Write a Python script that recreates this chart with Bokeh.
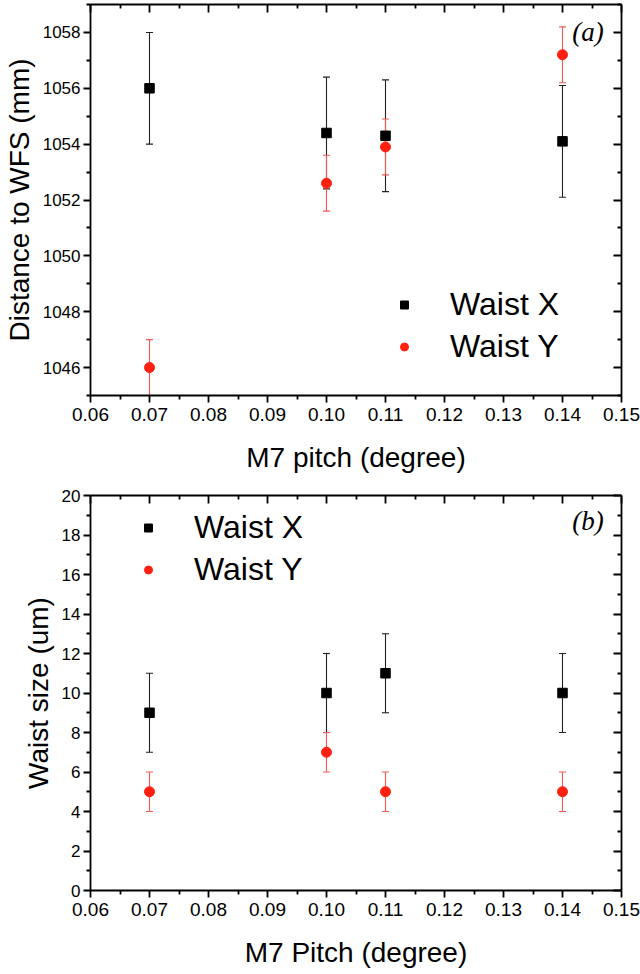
from bokeh.plotting import figure
from bokeh.models import (Range1d, LinearAxis, FixedTicker, Whisker, TeeHead,
                          ColumnDataSource, Legend, LegendItem, Label,
                          CustomLabelingPolicy)
from bokeh.layouts import column
from bokeh.embed import file_html
from bokeh.resources import INLINE

# ---------------- data ----------------
pitch = [0.07, 0.10, 0.11, 0.14]

dist_x = [1056.0, 1054.4, 1054.3, 1054.1]
dist_x_err = [2.0, 2.0, 2.0, 2.0]
dist_y = [1046.0, 1052.6, 1053.9, 1057.2]
dist_y_err = [1.0, 1.0, 1.0, 1.0]

size_x = [9.0, 10.0, 11.0, 10.0]
size_x_err = [2.0, 2.0, 2.0, 2.0]
size_y = [5.0, 7.0, 5.0, 5.0]
size_y_err = [1.0, 1.0, 1.0, 1.0]

x_ticks = [0.06, 0.07, 0.08, 0.09, 0.10, 0.11, 0.12, 0.13, 0.14, 0.15]
x_tick_labels = ["0.06", "0.07", "0.08", "0.09", "0.10", "0.11", "0.12", "0.13", "0.14", "0.15"]
dist_ticks = [1046, 1048, 1050, 1052, 1054, 1056, 1058]
size_ticks = [0, 2, 4, 6, 8, 10, 12, 14, 16, 18, 20]

series_names = ["Waist X", "Waist Y"]

BLACK = "#000000"
RED = "#FF2010"
RED_ERR = "#F05A50"
ERR_BLACK = "#222222"
FONT = "Liberation Sans"


def minor_of(ticks, lo, hi):
    step = ticks[1] - ticks[0]
    out = [t + step / 2 for t in ticks]
    out += [ticks[0] - step / 2]
    return [m for m in out if lo <= m <= hi]


HIDE_ALL = "for (const i of indices) indices.unset(i)\nreturn indices"


def make_panel(height, top, bottom, y_lo, y_hi, y_ticks, xs, ya, ea, yb, eb,
               xlabel, ylabel, tag, tag_y, legend_loc):
    p = figure(width=640, height=height, output_backend="svg", toolbar_location=None,
               x_range=Range1d(x_ticks[0], x_ticks[-1]), y_range=Range1d(y_lo, y_hi),
               min_border_left=90, min_border_right=19, min_border_top=top,
               min_border_bottom=bottom, x_axis_location=None, y_axis_location=None)
    p.grid.visible = False
    p.outline_line_color = None
    p.background_fill_color = "white"
    p.border_fill_color = "white"

    xt = FixedTicker(ticks=x_ticks, minor_ticks=minor_of(x_ticks, x_ticks[0], x_ticks[-1]))
    yt = FixedTicker(ticks=y_ticks, minor_ticks=minor_of(y_ticks, y_lo, y_hi))
    xover = {t: l for t, l in zip(x_ticks, x_tick_labels)}

    def style(ax, inward, labels, fs):
        ax.axis_line_width = 1.8
        ax.axis_line_color = "black"
        ax.major_tick_line_width = 1.8
        ax.minor_tick_line_width = 1.8
        ax.major_tick_line_color = "black"
        ax.minor_tick_line_color = "black"
        if inward:
            ax.major_tick_in = 8
            ax.major_tick_out = 0
            ax.minor_tick_in = 4
            ax.minor_tick_out = 0
        else:
            ax.major_tick_in = 0
            ax.major_tick_out = 7
            ax.minor_tick_in = 0
            ax.minor_tick_out = 4
        if labels:
            ax.major_label_text_font = FONT
            ax.major_label_text_font_size = fs
            ax.major_label_text_color = "black"
            ax.axis_label_text_font = FONT
            ax.axis_label_text_font_size = "28px"
            ax.axis_label_text_font_style = "normal"
            ax.axis_label_text_color = "black"
        else:
            ax.major_label_policy = CustomLabelingPolicy(code=HIDE_ALL)
            ax.major_label_text_font_size = "1px"
            ax.major_label_standoff = 0

    bx = LinearAxis(ticker=xt, axis_label=xlabel, major_label_overrides=xover)
    style(bx, False, True, "19px")
    bx.major_label_standoff = 5
    bx.axis_label_standoff = 18
    p.add_layout(bx, "below")

    tx = LinearAxis(ticker=xt)
    style(tx, True, False, None)
    p.add_layout(tx, "above")

    ly = LinearAxis(ticker=yt, axis_label=ylabel)
    style(ly, False, True, "17px")
    ly.major_label_standoff = 3
    ly.axis_label_standoff = 5
    p.add_layout(ly, "left")

    ry = LinearAxis(ticker=yt)
    style(ry, True, False, None)
    p.add_layout(ry, "right")

    # error bars
    for yv, ev, col in ((ya, ea, ERR_BLACK), (yb, eb, RED_ERR)):
        src = ColumnDataSource(dict(x=xs, upper=[v + e for v, e in zip(yv, ev)],
                                    lower=[v - e for v, e in zip(yv, ev)]))
        w = Whisker(source=src, base="x", upper="upper", lower="lower",
                    dimension="height", line_color=col, line_width=1.1,
                    upper_head=TeeHead(size=7, line_color=col, line_width=1.1),
                    lower_head=TeeHead(size=7, line_color=col, line_width=1.1))
        p.add_layout(w)

    ra = p.scatter(xs, ya, marker="square", size=9.5, fill_color=BLACK, line_color=BLACK)
    rb = p.scatter(xs, yb, marker="circle", size=10, fill_color=RED, line_color=RED)

    leg = Legend(items=[LegendItem(label=series_names[0], renderers=[ra]),
                        LegendItem(label=series_names[1], renderers=[rb])],
                 location=legend_loc, margin=0, padding=0, spacing=5,
                 glyph_width=20, glyph_height=35, label_height=35, label_standoff=36,
                 label_text_font=FONT, label_text_font_size="32px",
                 label_text_color="black", border_line_alpha=0,
                 background_fill_alpha=0)
    p.add_layout(leg)

    p.add_layout(Label(x=x_ticks[-1] - 0.003, y=tag_y, text=tag,
                       text_font="Liberation Serif", text_font_style="italic",
                       text_font_size="27px", text_align="right",
                       text_baseline="middle", text_color="black"))
    return p


pa = make_panel(480, 2, 85, 1045, 1059, dist_ticks, pitch, dist_x, dist_x_err,
                dist_y, dist_y_err, "M7 pitch (degree)", "Distance to WFS (mm)",
                "(a)", 1058.0, (304, 30))
pb = make_panel(492, 15, 82, 0, 20, size_ticks, pitch, size_x, size_x_err,
                size_y, size_y_err, "M7 Pitch (degree)", "Waist size (um)",
                "(b)", 18.73, (48, 302))

layout = column(pa, pb, spacing=0)
open("out.html", "w").write(file_html(layout, INLINE))
